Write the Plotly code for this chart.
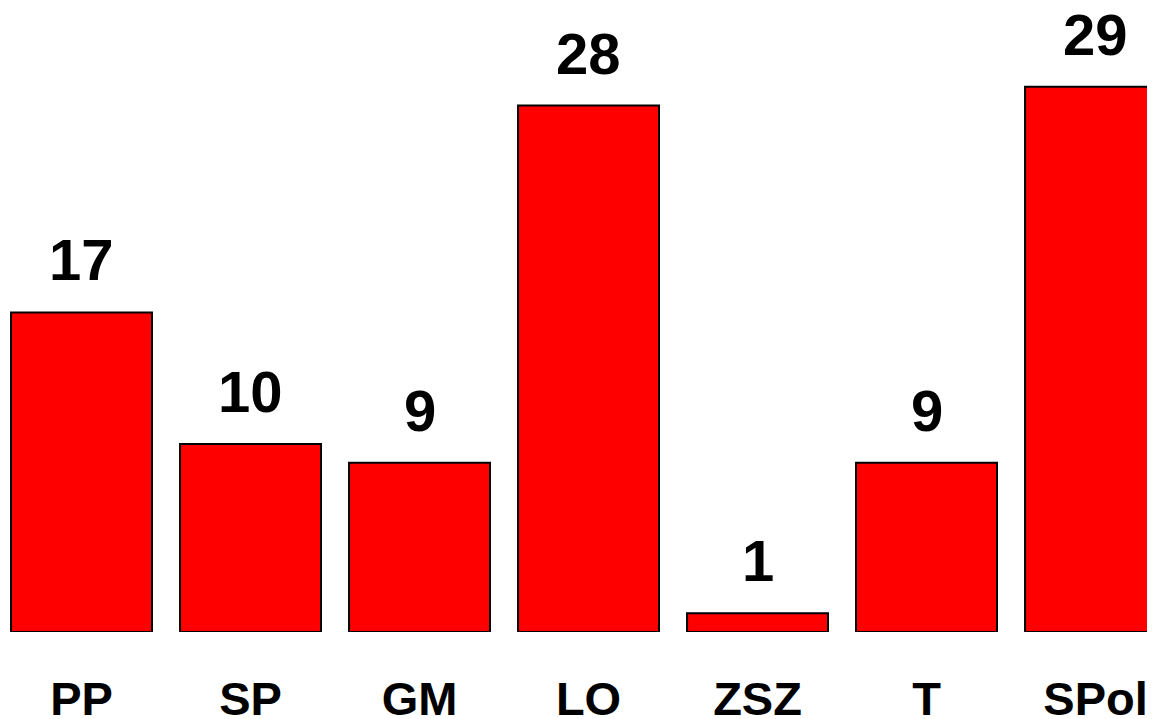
import plotly.graph_objects as go

categories = ["PP", "SP", "GM", "LO", "ZSZ", "T", "SPol"]
values = [17, 10, 9, 28, 1, 9, 29]

FONT = "Liberation Sans, Arial, sans-serif"

fig = go.Figure()
fig.add_trace(go.Bar(
    x=categories, y=values,
    marker=dict(color="#FF0000", line=dict(color="black", width=2)),
    hoverinfo="skip",
))

for c, v in zip(categories, values):
    fig.add_annotation(x=c, y=v, text=f"<b>{v}</b>", showarrow=False,
                       yanchor="bottom", yshift=18,
                       font=dict(family=FONT, size=58, color="black"))

fig.update_layout(
    width=1170, height=711,
    margin=dict(l=0, r=0, t=0, b=87),
    paper_bgcolor="white", plot_bgcolor="white",
    bargap=0.166,
    showlegend=False,
    xaxis=dict(range=[-0.435, 6.488], showgrid=False, zeroline=False,
               showline=False, ticks="", ticklabelstandoff=35,
               automargin=False,
               tickfont=dict(family=FONT, size=47, color="black"),
               tickmode="array", tickvals=categories,
               ticktext=[f"<b>{c}</b>" for c in categories]),
    yaxis=dict(range=[0, 33.19], visible=False, automargin=False),
)

fig.write_html("out.html")
